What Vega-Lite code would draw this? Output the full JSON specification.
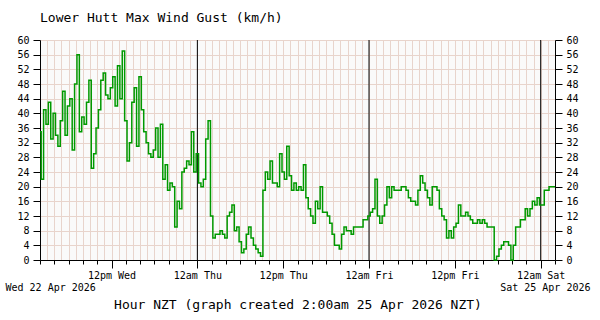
{
  "$schema": "https://vega.github.io/schema/vega-lite/v6.json",
  "width": 515,
  "height": 220,
  "autosize": {"type": "none"},
  "padding": {"left": 40, "top": 40, "right": 45, "bottom": 60},
  "background": "white",
  "config": {
    "view": {"fill": "#fafafa", "stroke": null},
    "font": "DejaVu Sans Mono",
    "axis": {"labelFont": "DejaVu Sans Mono", "labelFontSize": 10, "labelColor": "black", "titleFont": "DejaVu Sans Mono", "titleColor": "black", "titleFontWeight": "normal", "domainColor": "black", "tickColor": "black", "gridColor": "#e8d4cc", "gridOpacity": 1}
  },
  "title": {"text": "Lower Hutt Max Wind Gust (km/h)", "anchor": "start", "frame": "group", "font": "DejaVu Sans Mono", "fontSize": 13, "fontWeight": "normal", "color": "black", "offset": 10},
  "datasets": {
    "gust": [
      {"t":"2026-04-22T02:00Z","v":35},{"t":"2026-04-22T02:20Z","v":22},{"t":"2026-04-22T02:40Z","v":41},
      {"t":"2026-04-22T03:00Z","v":37},{"t":"2026-04-22T03:20Z","v":43},{"t":"2026-04-22T03:40Z","v":33},
      {"t":"2026-04-22T04:00Z","v":40},{"t":"2026-04-22T04:20Z","v":34},{"t":"2026-04-22T04:40Z","v":31},
      {"t":"2026-04-22T05:00Z","v":38},{"t":"2026-04-22T05:20Z","v":46},{"t":"2026-04-22T05:40Z","v":34},
      {"t":"2026-04-22T06:00Z","v":42},{"t":"2026-04-22T06:20Z","v":44},{"t":"2026-04-22T06:40Z","v":30},
      {"t":"2026-04-22T07:00Z","v":48},{"t":"2026-04-22T07:20Z","v":56},{"t":"2026-04-22T07:40Z","v":35},
      {"t":"2026-04-22T08:00Z","v":39},{"t":"2026-04-22T08:20Z","v":37},{"t":"2026-04-22T08:40Z","v":43},
      {"t":"2026-04-22T09:00Z","v":49},{"t":"2026-04-22T09:20Z","v":25},{"t":"2026-04-22T09:40Z","v":29},
      {"t":"2026-04-22T10:00Z","v":36},{"t":"2026-04-22T10:20Z","v":41},{"t":"2026-04-22T10:40Z","v":49},
      {"t":"2026-04-22T11:00Z","v":51},{"t":"2026-04-22T11:20Z","v":45},{"t":"2026-04-22T11:40Z","v":44},
      {"t":"2026-04-22T12:00Z","v":47},{"t":"2026-04-22T12:20Z","v":50},{"t":"2026-04-22T12:40Z","v":42},
      {"t":"2026-04-22T13:00Z","v":53},{"t":"2026-04-22T13:20Z","v":44},{"t":"2026-04-22T13:40Z","v":57},
      {"t":"2026-04-22T14:00Z","v":38},{"t":"2026-04-22T14:20Z","v":27},{"t":"2026-04-22T14:40Z","v":32},
      {"t":"2026-04-22T15:00Z","v":43},{"t":"2026-04-22T15:20Z","v":47},{"t":"2026-04-22T15:40Z","v":31},
      {"t":"2026-04-22T16:00Z","v":50},{"t":"2026-04-22T16:20Z","v":41},{"t":"2026-04-22T16:40Z","v":35},
      {"t":"2026-04-22T17:00Z","v":32},{"t":"2026-04-22T17:20Z","v":29},{"t":"2026-04-22T17:40Z","v":28},
      {"t":"2026-04-22T18:00Z","v":30},{"t":"2026-04-22T18:20Z","v":36},{"t":"2026-04-22T18:40Z","v":28},
      {"t":"2026-04-22T19:00Z","v":37},{"t":"2026-04-22T19:20Z","v":22},{"t":"2026-04-22T19:40Z","v":26},
      {"t":"2026-04-22T20:00Z","v":19},{"t":"2026-04-22T20:20Z","v":21},{"t":"2026-04-22T20:40Z","v":20},
      {"t":"2026-04-22T21:00Z","v":9},{"t":"2026-04-22T21:20Z","v":16},{"t":"2026-04-22T21:40Z","v":14},
      {"t":"2026-04-22T22:00Z","v":24},{"t":"2026-04-22T22:20Z","v":25},{"t":"2026-04-22T22:40Z","v":27},
      {"t":"2026-04-22T23:00Z","v":26},{"t":"2026-04-22T23:20Z","v":35},{"t":"2026-04-22T23:40Z","v":24},
      {"t":"2026-04-23T00:00Z","v":29},{"t":"2026-04-23T00:20Z","v":21},{"t":"2026-04-23T00:40Z","v":20},
      {"t":"2026-04-23T01:00Z","v":22},{"t":"2026-04-23T01:20Z","v":33},{"t":"2026-04-23T01:40Z","v":38},
      {"t":"2026-04-23T02:00Z","v":12},{"t":"2026-04-23T02:20Z","v":6},{"t":"2026-04-23T02:40Z","v":7},
      {"t":"2026-04-23T03:00Z","v":7},{"t":"2026-04-23T03:20Z","v":8},{"t":"2026-04-23T03:40Z","v":7},
      {"t":"2026-04-23T04:00Z","v":6},{"t":"2026-04-23T04:20Z","v":12},{"t":"2026-04-23T04:40Z","v":13},
      {"t":"2026-04-23T05:00Z","v":15},{"t":"2026-04-23T05:20Z","v":8},{"t":"2026-04-23T05:40Z","v":9},
      {"t":"2026-04-23T06:00Z","v":5},{"t":"2026-04-23T06:20Z","v":2},{"t":"2026-04-23T06:40Z","v":3},
      {"t":"2026-04-23T07:00Z","v":7},{"t":"2026-04-23T07:20Z","v":9},{"t":"2026-04-23T07:40Z","v":6},
      {"t":"2026-04-23T08:00Z","v":4},{"t":"2026-04-23T08:20Z","v":3},{"t":"2026-04-23T08:40Z","v":2},
      {"t":"2026-04-23T09:00Z","v":1},{"t":"2026-04-23T09:20Z","v":19},{"t":"2026-04-23T09:40Z","v":24},
      {"t":"2026-04-23T10:00Z","v":22},{"t":"2026-04-23T10:20Z","v":27},{"t":"2026-04-23T10:40Z","v":21},
      {"t":"2026-04-23T11:00Z","v":21},{"t":"2026-04-23T11:20Z","v":20},{"t":"2026-04-23T11:40Z","v":29},
      {"t":"2026-04-23T12:00Z","v":24},{"t":"2026-04-23T12:20Z","v":22},{"t":"2026-04-23T12:40Z","v":31},
      {"t":"2026-04-23T13:00Z","v":23},{"t":"2026-04-23T13:20Z","v":19},{"t":"2026-04-23T13:40Z","v":21},
      {"t":"2026-04-23T14:00Z","v":19},{"t":"2026-04-23T14:20Z","v":20},{"t":"2026-04-23T14:40Z","v":19},
      {"t":"2026-04-23T15:00Z","v":26},{"t":"2026-04-23T15:20Z","v":17},{"t":"2026-04-23T15:40Z","v":14},
      {"t":"2026-04-23T16:00Z","v":12},{"t":"2026-04-23T16:20Z","v":10},{"t":"2026-04-23T16:40Z","v":16},
      {"t":"2026-04-23T17:00Z","v":14},{"t":"2026-04-23T17:20Z","v":20},{"t":"2026-04-23T17:40Z","v":13},
      {"t":"2026-04-23T18:00Z","v":13},{"t":"2026-04-23T18:20Z","v":12},{"t":"2026-04-23T18:40Z","v":10},
      {"t":"2026-04-23T19:00Z","v":7},{"t":"2026-04-23T19:20Z","v":4},{"t":"2026-04-23T19:40Z","v":4},
      {"t":"2026-04-23T20:00Z","v":3},{"t":"2026-04-23T20:20Z","v":7},{"t":"2026-04-23T20:40Z","v":9},
      {"t":"2026-04-23T21:00Z","v":8},{"t":"2026-04-23T21:20Z","v":8},{"t":"2026-04-23T21:40Z","v":7},
      {"t":"2026-04-23T22:00Z","v":9},{"t":"2026-04-23T22:20Z","v":9},{"t":"2026-04-23T22:40Z","v":9},
      {"t":"2026-04-23T23:00Z","v":9},{"t":"2026-04-23T23:20Z","v":11},{"t":"2026-04-23T23:40Z","v":11},
      {"t":"2026-04-24T00:00Z","v":12},{"t":"2026-04-24T00:20Z","v":13},{"t":"2026-04-24T00:40Z","v":14},
      {"t":"2026-04-24T01:00Z","v":22},{"t":"2026-04-24T01:20Z","v":12},{"t":"2026-04-24T01:40Z","v":10},
      {"t":"2026-04-24T02:00Z","v":12},{"t":"2026-04-24T02:20Z","v":15},{"t":"2026-04-24T02:40Z","v":20},
      {"t":"2026-04-24T03:00Z","v":17},{"t":"2026-04-24T03:20Z","v":20},{"t":"2026-04-24T03:40Z","v":19},
      {"t":"2026-04-24T04:00Z","v":19},{"t":"2026-04-24T04:20Z","v":19},{"t":"2026-04-24T04:40Z","v":20},
      {"t":"2026-04-24T05:00Z","v":20},{"t":"2026-04-24T05:20Z","v":19},{"t":"2026-04-24T05:40Z","v":17},
      {"t":"2026-04-24T06:00Z","v":16},{"t":"2026-04-24T06:20Z","v":16},{"t":"2026-04-24T06:40Z","v":15},
      {"t":"2026-04-24T07:00Z","v":19},{"t":"2026-04-24T07:20Z","v":23},{"t":"2026-04-24T07:40Z","v":21},
      {"t":"2026-04-24T08:00Z","v":19},{"t":"2026-04-24T08:20Z","v":17},{"t":"2026-04-24T08:40Z","v":15},
      {"t":"2026-04-24T09:00Z","v":20},{"t":"2026-04-24T09:20Z","v":20},{"t":"2026-04-24T09:40Z","v":19},
      {"t":"2026-04-24T10:00Z","v":14},{"t":"2026-04-24T10:20Z","v":12},{"t":"2026-04-24T10:40Z","v":11},
      {"t":"2026-04-24T11:00Z","v":6},{"t":"2026-04-24T11:20Z","v":8},{"t":"2026-04-24T11:40Z","v":6},
      {"t":"2026-04-24T12:00Z","v":9},{"t":"2026-04-24T12:20Z","v":10},{"t":"2026-04-24T12:40Z","v":15},
      {"t":"2026-04-24T13:00Z","v":12},{"t":"2026-04-24T13:20Z","v":12},{"t":"2026-04-24T13:40Z","v":13},
      {"t":"2026-04-24T14:00Z","v":12},{"t":"2026-04-24T14:20Z","v":11},{"t":"2026-04-24T14:40Z","v":10},
      {"t":"2026-04-24T15:00Z","v":10},{"t":"2026-04-24T15:20Z","v":11},{"t":"2026-04-24T15:40Z","v":10},
      {"t":"2026-04-24T16:00Z","v":11},{"t":"2026-04-24T16:20Z","v":10},{"t":"2026-04-24T16:40Z","v":9},
      {"t":"2026-04-24T17:00Z","v":9},{"t":"2026-04-24T17:20Z","v":9},{"t":"2026-04-24T17:40Z","v":0},
      {"t":"2026-04-24T18:00Z","v":1},{"t":"2026-04-24T18:20Z","v":3},{"t":"2026-04-24T18:40Z","v":4},
      {"t":"2026-04-24T19:00Z","v":5},{"t":"2026-04-24T19:20Z","v":5},{"t":"2026-04-24T19:40Z","v":4},
      {"t":"2026-04-24T20:00Z","v":0},{"t":"2026-04-24T20:20Z","v":4},{"t":"2026-04-24T20:40Z","v":9},
      {"t":"2026-04-24T21:00Z","v":9},{"t":"2026-04-24T21:20Z","v":11},{"t":"2026-04-24T21:40Z","v":11},
      {"t":"2026-04-24T22:00Z","v":14},{"t":"2026-04-24T22:20Z","v":12},{"t":"2026-04-24T22:40Z","v":14},
      {"t":"2026-04-24T23:00Z","v":16},{"t":"2026-04-24T23:20Z","v":15},{"t":"2026-04-24T23:40Z","v":17},
      {"t":"2026-04-25T00:00Z","v":15},{"t":"2026-04-25T00:20Z","v":15},{"t":"2026-04-25T00:40Z","v":19},
      {"t":"2026-04-25T01:00Z","v":19},{"t":"2026-04-25T01:20Z","v":20},{"t":"2026-04-25T01:40Z","v":20},
      {"t":"2026-04-25T02:00Z","v":20}
    ],
    "midnights": [
      {"t":"2026-04-23T00:00Z"},{"t":"2026-04-24T00:00Z"},{"t":"2026-04-25T00:00Z"}
    ]
  },
  "layer": [
    {
      "data": {"name": "midnights"},
      "mark": {"type": "rule", "color": "black", "strokeWidth": 1},
      "encoding": {
        "x": {
          "field": "t", "type": "temporal",
          "scale": {"type": "utc", "domain": [{"year": 2026, "month": 4, "date": 22, "hours": 2, "utc": true}, {"year": 2026, "month": 4, "date": 25, "hours": 2, "utc": true}]},
          "axis": {
            "orient": "bottom",
            "values": [1776823200000,1776826800000,1776830400000,1776834000000,1776837600000,1776841200000,1776844800000,1776848400000,1776852000000,1776855600000,1776859200000,1776862800000,1776866400000,1776870000000,1776873600000,1776877200000,1776880800000,1776884400000,1776888000000,1776891600000,1776895200000,1776898800000,1776902400000,1776906000000,1776909600000,1776913200000,1776916800000,1776920400000,1776924000000,1776927600000,1776931200000,1776934800000,1776938400000,1776942000000,1776945600000,1776949200000,1776952800000,1776956400000,1776960000000,1776963600000,1776967200000,1776970800000,1776974400000,1776978000000,1776981600000,1776985200000,1776988800000,1776992400000,1776996000000,1776999600000,1777003200000,1777006800000,1777010400000,1777014000000,1777017600000,1777021200000,1777024800000,1777028400000,1777032000000,1777035600000,1777039200000,1777042800000,1777046400000,1777050000000,1777053600000,1777057200000,1777060800000,1777064400000,1777068000000,1777071600000,1777075200000,1777078800000,1777082400000],
            "grid": true, "ticks": false, "domain": false,
            "labelOverlap": false, "labelBound": false,
            "labelFlush": true, "labelFlushOffset": 35,
            "labelPadding": 22,
            "labelExpr": "(utcFormat(datum.value, '%d %H') == '22 02' || utcFormat(datum.value, '%d %H') == '25 02') ? utcFormat(datum.value, '%a %d %b %Y') : ''",
            "title": null
          }
        },
        "y": {
          "datum": 0, "type": "quantitative",
          "scale": {"domain": [0, 60], "nice": false, "zero": true},
          "axis": {"orient": "right", "values": [0,4,8,12,16,20,24,28,32,36,40,44,48,52,56,60], "grid": false, "tickSize": 7, "labelPadding": 4, "title": null}
        },
        "y2": {"datum": 60}
      }
    },
    {
      "data": {"name": "gust"},
      "mark": {"type": "line", "interpolate": "step", "color": "#009900", "strokeWidth": 1.5},
      "encoding": {
        "x": {
          "field": "t", "type": "temporal",
          "scale": {"type": "utc", "domain": [{"year": 2026, "month": 4, "date": 22, "hours": 2, "utc": true}, {"year": 2026, "month": 4, "date": 25, "hours": 2, "utc": true}]},
          "axis": {
            "orient": "bottom",
            "values": [1776823200000,1776830400000,1776837600000,1776844800000,1776852000000,1776859200000,1776866400000,1776873600000,1776880800000,1776888000000,1776895200000,1776902400000,1776909600000,1776916800000,1776924000000,1776931200000,1776938400000,1776945600000,1776952800000,1776960000000,1776967200000,1776974400000,1776981600000,1776988800000,1776996000000,1777003200000,1777010400000,1777017600000,1777024800000,1777032000000,1777039200000,1777046400000,1777053600000,1777060800000,1777068000000,1777075200000,1777082400000],
            "grid": false,
            "tickSize": {"condition": {"test": "utchours(datum.value) % 12 == 0", "value": 8}, "value": 4},
            "labelOverlap": false, "labelFlush": false, "labelBound": false,
            "labelPadding": 2,
            "labelExpr": "utchours(datum.value) == 12 ? '12pm ' + utcFormat(datum.value, '%a') : (utchours(datum.value) == 0 ? '12am ' + utcFormat(datum.value, '%a') : '')",
            "title": "Hour NZT (graph created 2:00am 25 Apr 2026 NZT)",
            "titleFontSize": 13,
            "titlePadding": 18
          }
        },
        "y": {
          "field": "v", "type": "quantitative",
          "scale": {"domain": [0, 60], "nice": false, "zero": true},
          "axis": {"orient": "left", "values": [0,4,8,12,16,20,24,28,32,36,40,44,48,52,56,60], "grid": true, "tickSize": 7, "labelPadding": 4, "title": null}
        }
      }
    }
  ],
  "resolve": {"axis": {"x": "independent", "y": "independent"}}
}
